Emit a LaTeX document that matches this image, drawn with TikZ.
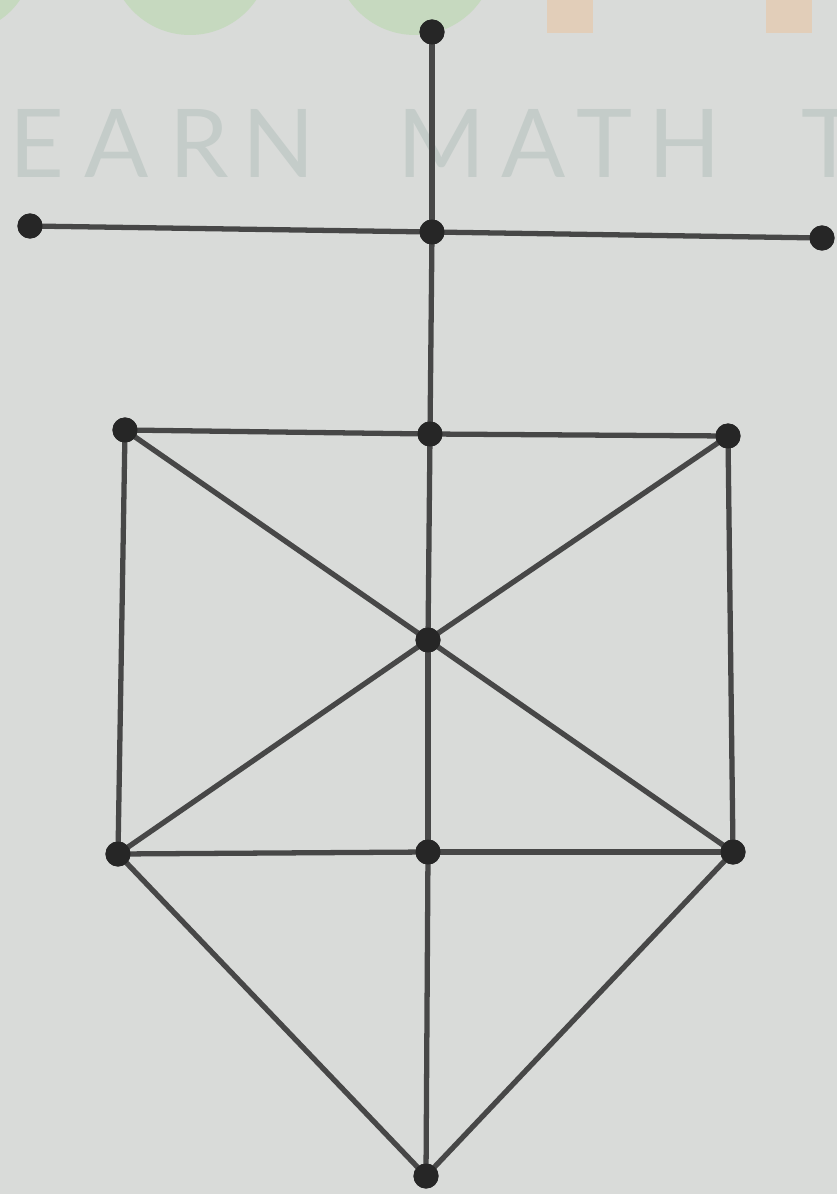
\documentclass[tikz,border=0pt]{standalone}
\usepackage{fontspec}
\newfontfamily\wmfont{Lato}
\begin{document}
\begin{tikzpicture}[x=0.01cm,y=-0.01cm,
  vtx/.style={circle,fill=black!85,inner sep=0pt,minimum size=0.25cm},
  edge/.style={draw=black!72,line width=1.5pt},
  wm/.style={text=wmcol,font=\wmfont\fontsize{27}{27}\selectfont,inner sep=0pt,anchor=base}]
\definecolor{bgcol}{HTML}{D9DBD9}
\definecolor{wmcol}{HTML}{C4CCC9}
\definecolor{logogreen}{HTML}{C6D9BF}
\definecolor{logoorange}{HTML}{E2CEB9}
\useasboundingbox (0,0) rectangle (837,1194);
\fill[bgcol] (0,0) rectangle (837,1194);
\begin{scope}
\clip (0,0) rectangle (837,1194);
\fill[logogreen] (-40,-40) circle (72);
\fill[logogreen] (190,-45) circle (80);
\fill[logogreen] (415,-45) circle (80);
\fill[logoorange] (547,0) rectangle (593,33);
\fill[logoorange] (766,0) rectangle (812,33);
\node[wm] (w1) at (37,178) {E};
\node[wm] (w2) at (117,178) {A};
\node[wm] (w3) at (199,178) {R};
\node[wm] (w4) at (279,178) {N};
\node[wm] (w5) at (442,178) {M};
\node[wm] (w6) at (534,178) {A};
\node[wm] (w7) at (605,178) {T};
\node[wm] (w8) at (685,178) {H};
\node[wm] (w9) at (830,178) {T};
\end{scope}
\node[vtx] (top) at (432,32) {};
\node[vtx] (l) at (30,226) {};
\node[vtx] (mt) at (432,232) {};
\node[vtx] (r) at (822,238) {};
\node[vtx] (a) at (125,430) {};
\node[vtx] (b) at (430,434) {};
\node[vtx] (c) at (728,436) {};
\node[vtx] (o) at (428,640) {};
\node[vtx] (d) at (118,854) {};
\node[vtx] (e) at (428,852) {};
\node[vtx] (f) at (733,852) {};
\node[vtx] (bot) at (426,1176) {};
\begin{scope}[on background layer/.style={}]
\end{scope}
\draw[edge] (top.center) -- (mt.center);
\draw[edge] (l.center) -- (mt.center);
\draw[edge] (mt.center) -- (r.center);
\draw[edge] (mt.center) -- (b.center);
\draw[edge] (a.center) -- (b.center);
\draw[edge] (b.center) -- (c.center);
\draw[edge] (a.center) -- (o.center);
\draw[edge] (c.center) -- (o.center);
\draw[edge] (b.center) -- (o.center);
\draw[edge] (a.center) -- (d.center);
\draw[edge] (c.center) -- (f.center);
\draw[edge] (o.center) -- (d.center);
\draw[edge] (o.center) -- (f.center);
\draw[edge] (o.center) -- (e.center);
\draw[edge] (d.center) -- (e.center);
\draw[edge] (e.center) -- (f.center);
\draw[edge] (d.center) -- (bot.center);
\draw[edge] (f.center) -- (bot.center);
\draw[edge] (e.center) -- (bot.center);
\foreach \n in {top,l,mt,r,a,b,c,o,d,e,f,bot} \fill[black!85] (\n) circle (0.125cm);
\end{tikzpicture}
\end{document}
